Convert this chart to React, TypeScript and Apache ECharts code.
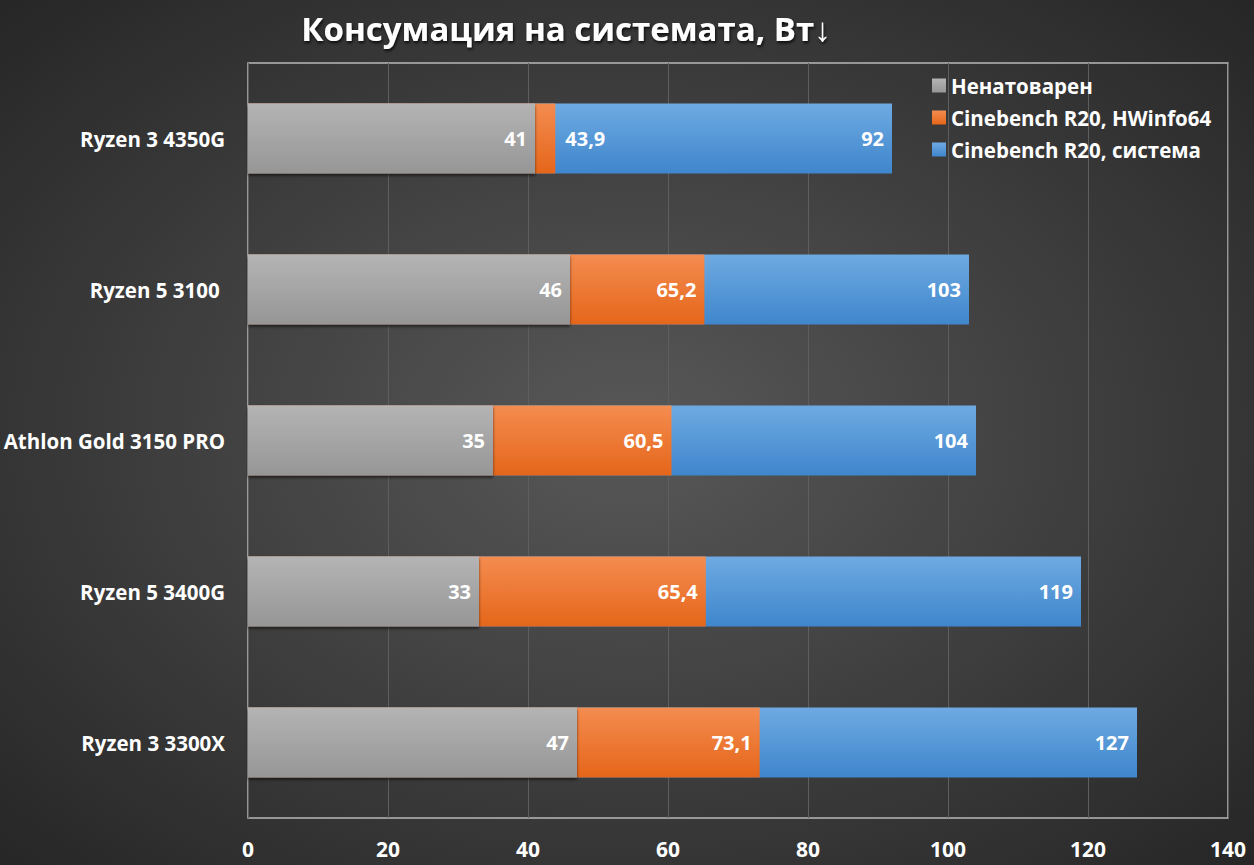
import React, { useEffect, useRef } from "react";
import * as echarts from "echarts";

const categories = ["Ryzen 3 4350G", "Ryzen 5 3100 ", "Athlon Gold 3150 PRO", "Ryzen 5 3400G", "Ryzen 3 3300X"];
const idleValues = [41, 46, 35, 33, 47];
const hwinfoValues = [43.9, 65.2, 60.5, 65.4, 73.1];
const systemValues = [92, 103, 104, 119, 127];
const seriesNames = ["Ненатоварен", "Cinebench R20, HWinfo64", "Cinebench R20, система"];
const xTicks = [0, 20, 40, 60, 80, 100, 120, 140];

const FONT = "'Open Sans', 'Noto Sans', sans-serif";

const grad = (top: string, bottom: string) =>
  new echarts.graphic.LinearGradient(0, 0, 0, 1, [
    { offset: 0, color: top },
    { offset: 1, color: bottom },
  ]);

const fmt = (p: any) => String(p.value).replace(".", ",");

export default function App() {
  const ref = useRef<HTMLDivElement>(null);
  useEffect(() => {
    document.body.style.margin = "0";
    const chart = echarts.init(ref.current!, null, { renderer: "svg" });
    const labelBase = {
      show: true,
      position: "insideRight" as const,
      color: "#ffffff",
      fontFamily: FONT,
      fontWeight: "bold" as const,
      fontSize: 20,
      formatter: fmt,
      distance: 8,
    };
    chart.setOption({
      animation: false,
      backgroundColor: {
        type: "radial",
        x: 0.5,
        y: 0.5,
        r: 0.75,
        colorStops: [
          { offset: 0, color: "#585858" },
          { offset: 1, color: "#232323" },
        ],
      },
      title: {
        text: "Консумация на системата, Вт↓",
        left: 561,
        textAlign: "center",
        top: 7,
        textStyle: {
          color: "#ffffff",
          fontFamily: FONT,
          fontWeight: "bold",
          fontSize: 33,
          textShadowColor: "rgba(0,0,0,0.8)",
          textShadowBlur: 3,
          textShadowOffsetX: 1,
          textShadowOffsetY: 2,
        },
      },
      legend: {
        orient: "vertical",
        left: 927,
        top: 70,
        itemWidth: 14,
        itemHeight: 14,
        itemGap: 11,
        itemStyle: { borderWidth: 0 },
        icon: "rect",
        data: seriesNames,
        textStyle: { color: "#ffffff", fontFamily: FONT, fontWeight: "bold", fontSize: 20.5 },
      },
      grid: {
        left: 248,
        right: 26,
        top: 63,
        bottom: 47,
        show: true,
        borderColor: "#b8b8b8",
        borderWidth: 1.5,
        backgroundColor: "transparent",
      },
      xAxis: {
        type: "value",
        min: 0,
        max: 140,
        interval: 20,
        axisLine: { show: false },
        axisTick: { show: false },
        splitLine: { show: true, lineStyle: { color: "#5e5e5e", width: 1 } },
        axisLabel: {
          color: "#ffffff",
          fontFamily: FONT,
          fontWeight: "bold",
          fontSize: 21,
          margin: 20,
          formatter: (v: number) => (xTicks.includes(v) ? String(v) : ""),
        },
      },
      yAxis: {
        type: "category",
        data: categories,
        inverse: true,
        axisLine: { show: false },
        axisTick: { show: false },
        axisLabel: {
          color: "#ffffff",
          fontFamily: FONT,
          fontWeight: "bold",
          fontSize: 20.5,
          margin: 23,
        },
      },
      series: [
        {
          name: seriesNames[2],
          type: "bar",
          data: systemValues,
          barWidth: 70,
          barGap: "-100%",
          z: 2,
          itemStyle: { color: grad("#6eaae2", "#3f86cc") },
          label: labelBase,
        },
        {
          name: seriesNames[1],
          type: "bar",
          data: hwinfoValues.map((v, i) =>
            i === 0
              ? { value: v, label: { position: "right", distance: 10 } }
              : { value: v }
          ),
          barWidth: 70,
          barGap: "-100%",
          z: 3,
          itemStyle: { color: grad("#f48c50", "#e5661a") },
          label: labelBase,
        },
        {
          name: seriesNames[0],
          type: "bar",
          data: idleValues,
          barWidth: 70,
          barGap: "-100%",
          z: 4,
          itemStyle: {
            color: grad("#b4b4b4", "#969696"),
            shadowColor: "rgba(0,0,0,0.6)",
            shadowBlur: 3,
            shadowOffsetY: 2,
          },
          label: labelBase,
        },
      ],
    });
    return () => chart.dispose();
  }, []);
  return <div ref={ref} style={{ width: 1254, height: 865 }} />;
}
